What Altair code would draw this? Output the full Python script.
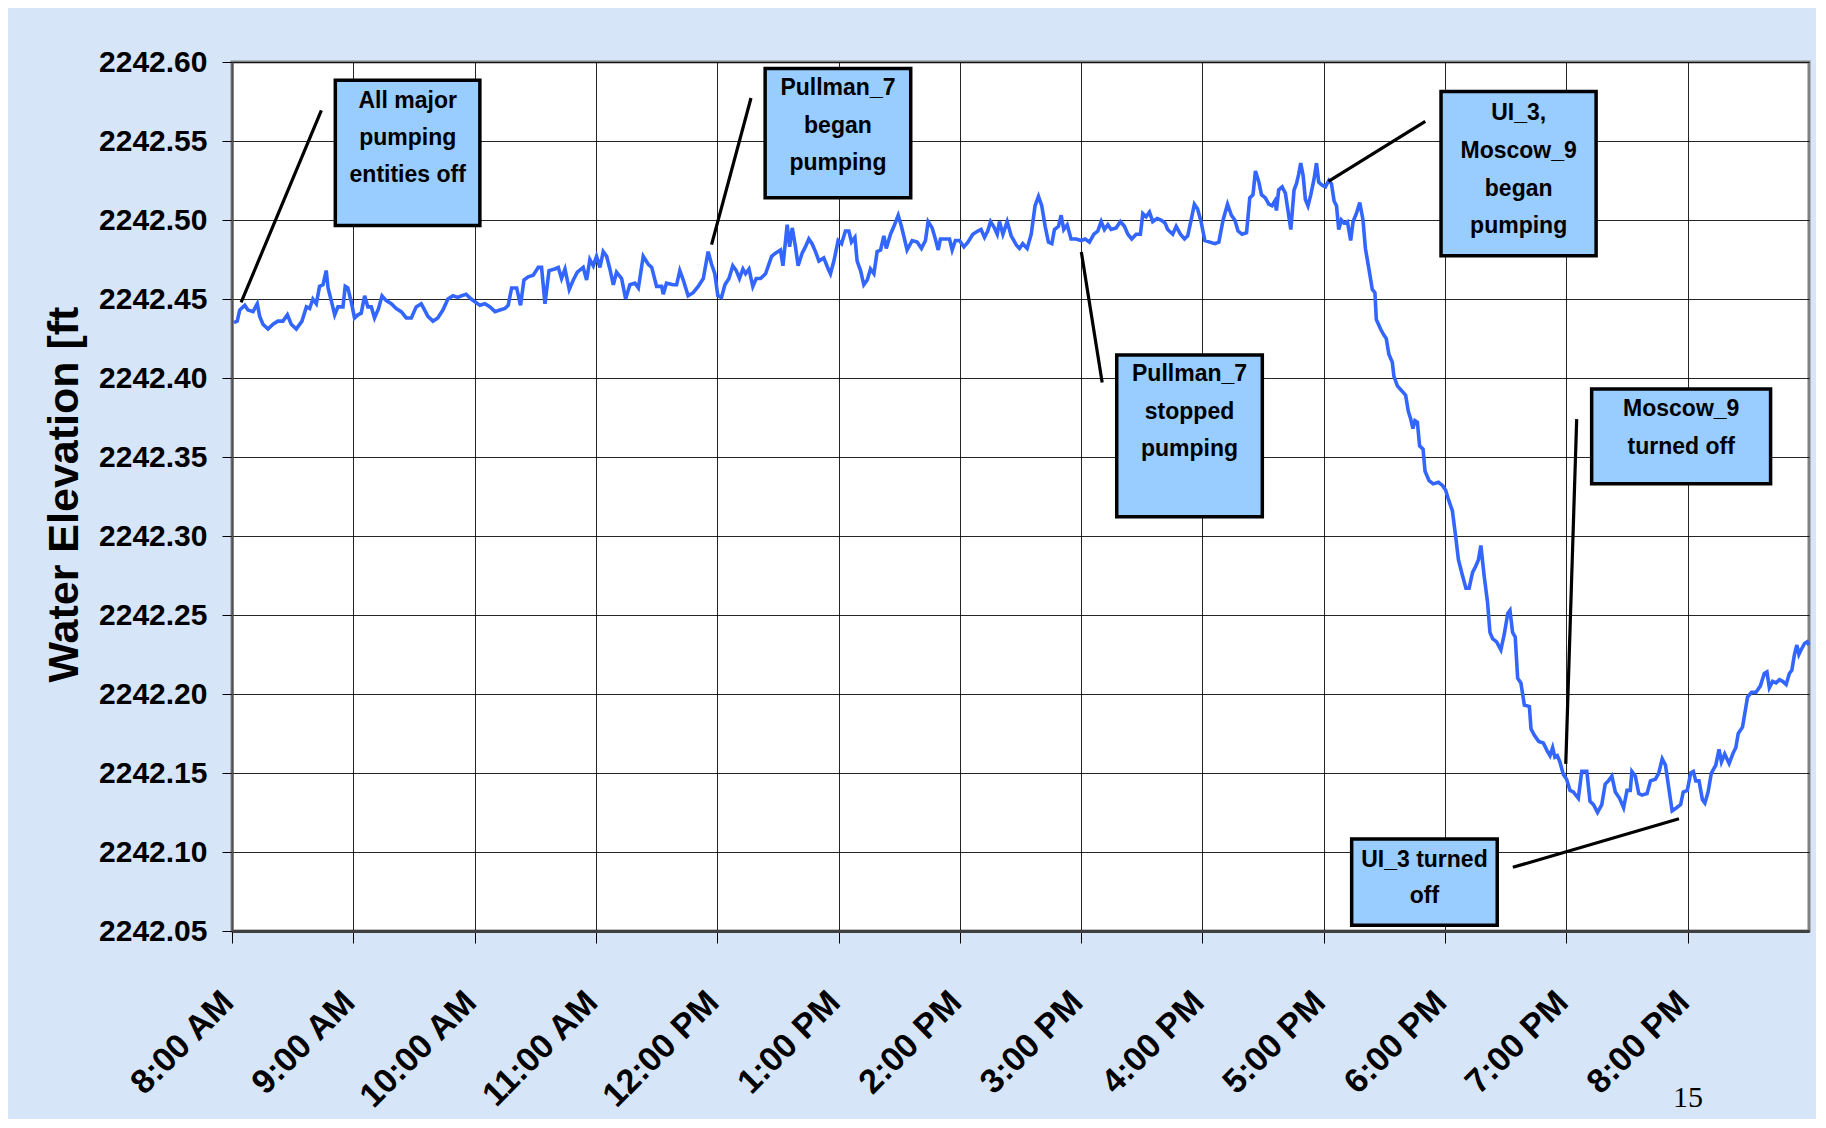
import altair as alt
import pandas as pd

# ---------------- data ----------------
hour_labels = ["8:00 AM", "9:00 AM", "10:00 AM", "11:00 AM", "12:00 PM", "1:00 PM",
               "2:00 PM", "3:00 PM", "4:00 PM", "5:00 PM", "6:00 PM", "7:00 PM", "8:00 PM"]
y_ticks = [2242.05, 2242.10, 2242.15, 2242.20, 2242.25, 2242.30, 2242.35, 2242.40,
           2242.45, 2242.50, 2242.55, 2242.60]

# minutes after 8:00 AM
minutes = [
    1, 2.6, 3.8, 6.3, 7.9, 10.4, 12.5, 13.7, 15.3, 17.8, 20.3, 22.7, 25.2, 27.4, 29.3, 31.8, 34.6,
    36.8, 38.4, 40.0, 41.7, 43.3, 45.0, 46.6, 47.5, 49.1, 50.8, 52.4, 54.9, 56.0, 57.3, 59.0, 60.6,
    62.3, 63.9, 65.6, 67.2, 68.9, 70.5, 72.5, 74.2, 76.3, 78.8, 81.2, 83.7, 86.2, 88.7, 91.1, 93.6,
    95.3, 96.9, 99.4, 101.8, 104.3, 106.8, 109.3, 111.7, 113.4, 115.8, 118.3,
    120.5, 122.6, 125.1, 127.6, 130.1, 132.5, 135.0, 136.6, 138.3, 140.8, 142.7, 144.4, 146.5, 149.0,
    151.5, 153.1, 154.8, 156.8, 159.7, 161.4, 163.0, 164.7, 166.8, 168.8, 170.8, 173.7, 175.4, 177.0,
    178.7, 180.3, 182.0, 183.6, 185.3, 186.9, 188.6, 190.2, 192.7, 194.7, 196.8, 199.3, 201.0, 203.4,
    205.9, 207.6, 210.0, 212.5, 213.3, 214.9, 218.2, 219.9, 221.5, 223.2, 225.6, 228.1, 230.6, 233.1,
    235.5, 237.2, 238.8, 240.3,
    242.1, 243.8, 245.8, 247.7, 249.4, 251.0, 252.7, 254.0, 255.7, 257.6, 259.3, 261.4, 263.9, 266.9,
    268.8, 271.3, 272.5, 274.6, 275.8, 277.1, 278.7, 280.0, 282.0, 283.6, 285.3, 286.9, 288.6, 290.3,
    292.7, 294.9, 296.0, 297.7, 299.8, 301.5, 303.4, 305.1, 306.4, 308.1, 309.2, 310.9, 312.5, 314.2,
    315.8, 317.5, 319.1, 320.8, 322.4, 323.6, 325.7, 327.4, 329.5, 331.1, 332.8, 333.9, 336.4, 338.9,
    341.0, 343.0, 344.3, 346.3, 347.9, 349.3, 350.4, 352.9, 354.9, 356.2, 357.8,
    359.8, 362.0, 364.0, 366.4, 368.9, 370.5, 372.2, 373.8, 375.2, 377.1, 378.5, 379.6, 381.3, 383.4,
    385.4, 388.0, 389.5, 391.1, 393.3, 395.3, 397.2, 398.9, 400.5, 402.2, 403.8, 405.5, 406.8, 408.8,
    410.1, 411.4, 413.1, 415.0, 417.5, 420.0, 422.0, 424.1, 426.3, 428.2, 429.9, 431.5, 433.2, 434.8,
    437.3, 439.4, 441.4, 443.1, 445.0, 447.2, 449.3, 450.5, 452.1, 453.8, 455.4, 457.6, 459.5, 461.5,
    462.8, 465.3, 467.0, 469.1, 471.1, 472.7, 474.4, 476.0, 477.6, 479.3,
    481.2, 483.6, 486.1, 488.1, 490.2, 492.4, 494.3, 496.0, 497.6, 499.6, 501.8, 503.4, 505.0, 506.2,
    507.9, 509.2, 511.1, 512.8, 514.4, 515.8, 516.6, 517.7, 519.4, 521.0, 522.4, 523.7, 525.3, 526.5,
    527.6, 528.6, 529.8, 530.9, 532.2, 533.6, 535.2, 536.4, 537.5, 539.2, 540.8, 542.5, 543.8, 545.1,
    546.3, 547.4, 548.7, 550.0, 551.7, 553.3, 554.5, 556.1, 557.8, 559.4, 560.6, 562.2,
    564.0, 565.3, 566.0, 568.1, 569.8, 570.9, 572.2, 573.9, 574.7, 576.4, 579.2, 580.5, 581.8, 583.0,
    584.1, 585.1, 586.3, 587.4, 589.1, 590.1, 592.1, 594.1, 596.7, 598.7, 600.3, 601.7, 603.6, 605.3,
    606.6, 608.6, 610.3, 611.9, 613.6, 615.2, 616.5, 617.7, 619.3, 621.0, 622.2, 623.5, 625.5, 627.6,
    629.3, 631.0, 632.1, 633.4, 634.7, 635.9, 637.5, 639.2, 641.7, 642.5, 644.1, 646.3, 648.6, 650.5,
    651.9, 653.2, 654.3, 655.5, 656.8, 658.5, 660.1, 661.8, 663.4, 665.9, 667.6, 670.1, 671.7, 673.4,
    675.4, 677.5, 679.2, 680.8, 682.5, 684.2, 686.3, 688.3, 690.0, 691.6, 692.4, 694.1, 695.8, 697.4,
    699.9, 701.6, 704.0, 705.7, 707.4, 709.0, 710.7, 712.3, 714.5, 716.5, 717.8, 719.8, 721.5, 722.8,
    724.0, 725.6, 727.3, 728.5, 730.1, 731.7, 733.9, 735.5, 736.7, 738.3, 740.5, 742.6, 743.8, 745.0,
    747.1, 749.6, 751.6, 753.7, 755.9, 757.9, 759.2, 760.4, 762.0, 763.7, 765.4, 767.0, 768.7, 770.3,
    771.5, 772.8, 774.0, 775.0, 776.1, 777.8, 779.1, 780.0,
]

elevation = [
    2242.435, 2242.436, 2242.443, 2242.446, 2242.443, 2242.442, 2242.447, 2242.439, 2242.434, 2242.431,
    2242.434, 2242.436, 2242.436, 2242.440, 2242.434, 2242.431, 2242.436, 2242.445, 2242.444, 2242.450,
    2242.447, 2242.458, 2242.459, 2242.468, 2242.457, 2242.449, 2242.440, 2242.445, 2242.445, 2242.458,
    2242.457, 2242.448, 2242.438, 2242.440, 2242.441, 2242.452, 2242.445, 2242.445, 2242.438, 2242.444,
    2242.452, 2242.449, 2242.447, 2242.444, 2242.442, 2242.438, 2242.438, 2242.445, 2242.447, 2242.443,
    2242.439, 2242.436, 2242.438, 2242.443, 2242.450, 2242.452, 2242.451, 2242.452, 2242.453, 2242.450,
    2242.448, 2242.446, 2242.447, 2242.445, 2242.442, 2242.443, 2242.444, 2242.446, 2242.457, 2242.457,
    2242.446, 2242.462, 2242.464, 2242.465, 2242.470, 2242.470, 2242.447, 2242.468, 2242.469, 2242.470,
    2242.463, 2242.469, 2242.456, 2242.462, 2242.467, 2242.470, 2242.462, 2242.475, 2242.471, 2242.477,
    2242.470, 2242.480, 2242.477, 2242.469, 2242.459, 2242.467, 2242.463, 2242.450, 2242.459, 2242.460,
    2242.457, 2242.477, 2242.472, 2242.470, 2242.458, 2242.458, 2242.453, 2242.460, 2242.459, 2242.459,
    2242.468, 2242.462, 2242.452, 2242.454, 2242.458, 2242.463, 2242.480, 2242.472, 2242.466, 2242.452,
    2242.451, 2242.459, 2242.463, 2242.471, 2242.468, 2242.463, 2242.469, 2242.466, 2242.469, 2242.458,
    2242.463, 2242.463, 2242.466, 2242.477, 2242.479, 2242.481, 2242.471, 2242.497, 2242.483, 2242.495,
    2242.483, 2242.471, 2242.479, 2242.483, 2242.488, 2242.485, 2242.480, 2242.474, 2242.476, 2242.469,
    2242.466, 2242.474, 2242.487, 2242.485, 2242.493, 2242.493, 2242.486, 2242.489, 2242.474, 2242.468,
    2242.459, 2242.462, 2242.469, 2242.466, 2242.480, 2242.481, 2242.490, 2242.482, 2242.491, 2242.496,
    2242.503, 2242.496, 2242.487, 2242.481, 2242.487, 2242.486, 2242.482, 2242.487, 2242.499, 2242.495,
    2242.488, 2242.481, 2242.488, 2242.488, 2242.488, 2242.481, 2242.487,
    2242.487, 2242.483, 2242.486, 2242.491, 2242.493, 2242.494, 2242.489, 2242.493, 2242.499, 2242.495,
    2242.491, 2242.499, 2242.491, 2242.499, 2242.490, 2242.484, 2242.482, 2242.485, 2242.482, 2242.491,
    2242.509, 2242.515, 2242.509, 2242.496, 2242.486, 2242.485, 2242.494, 2242.496, 2242.503, 2242.494,
    2242.497, 2242.488, 2242.488, 2242.487, 2242.488, 2242.486, 2242.491, 2242.493, 2242.499, 2242.494,
    2242.497, 2242.494, 2242.495, 2242.499, 2242.496, 2242.491, 2242.488, 2242.491, 2242.491, 2242.504,
    2242.502, 2242.505, 2242.499, 2242.501, 2242.500, 2242.498, 2242.494, 2242.491, 2242.496, 2242.491,
    2242.488, 2242.490, 2242.500, 2242.510, 2242.507, 2242.499,
    2242.487, 2242.486, 2242.485, 2242.486, 2242.500, 2242.510, 2242.503, 2242.500, 2242.493, 2242.491,
    2242.492, 2242.514, 2242.516, 2242.531, 2242.524, 2242.516, 2242.514, 2242.510, 2242.509, 2242.512,
    2242.506, 2242.519, 2242.521, 2242.517, 2242.505, 2242.494, 2242.519, 2242.523, 2242.529, 2242.536,
    2242.528, 2242.513, 2242.509, 2242.516, 2242.526, 2242.536, 2242.524, 2242.522, 2242.521, 2242.525,
    2242.523, 2242.512, 2242.509, 2242.494, 2242.500, 2242.498, 2242.499, 2242.487, 2242.499, 2242.504,
    2242.511, 2242.500, 2242.482, 2242.470,
    2242.456, 2242.454, 2242.437, 2242.431, 2242.427, 2242.425, 2242.415, 2242.410, 2242.401, 2242.395,
    2242.391, 2242.389, 2242.379, 2242.374, 2242.368, 2242.373, 2242.372, 2242.357, 2242.355, 2242.341,
    2242.335, 2242.333, 2242.334, 2242.332, 2242.329, 2242.323, 2242.316, 2242.299, 2242.285, 2242.275,
    2242.267, 2242.267, 2242.277, 2242.281, 2242.285, 2242.294, 2242.275, 2242.258, 2242.239, 2242.235,
    2242.233, 2242.228, 2242.238, 2242.251, 2242.253, 2242.239, 2242.236, 2242.210, 2242.207, 2242.193,
    2242.192, 2242.178, 2242.174, 2242.170, 2242.169, 2242.164, 2242.161, 2242.166, 2242.160, 2242.161,
    2242.157, 2242.149, 2242.146, 2242.139, 2242.138, 2242.134, 2242.151, 2242.151, 2242.132, 2242.130,
    2242.125, 2242.130, 2242.143, 2242.145, 2242.148, 2242.138, 2242.134, 2242.128, 2242.139, 2242.139,
    2242.151, 2242.148, 2242.137, 2242.136, 2242.137, 2242.145, 2242.146, 2242.150, 2242.159, 2242.155,
    2242.140, 2242.126, 2242.128, 2242.130, 2242.138, 2242.139, 2242.150, 2242.151, 2242.145, 2242.145,
    2242.133, 2242.131, 2242.138, 2242.150, 2242.155, 2242.165, 2242.157, 2242.162, 2242.156, 2242.163,
    2242.166, 2242.175, 2242.179, 2242.198, 2242.201, 2242.201, 2242.205, 2242.213, 2242.214, 2242.204,
    2242.208, 2242.207, 2242.209, 2242.208, 2242.206, 2242.213, 2242.215, 2242.225, 2242.231, 2242.225,
    2242.228, 2242.232, 2242.233, 2242.231,
]

# annotation boxes (minutes / ft)
box_t1 = [51.1, 263.7, 598.0, 437.6, 672.5, 553.8]
box_t2 = [122.6, 335.7, 674.7, 509.6, 761.0, 625.8]
box_v1 = [2242.5885, 2242.5959, 2242.5814, 2242.4146, 2242.3931, 2242.1083]
box_v2 = [2242.4965, 2242.5141, 2242.4774, 2242.3122, 2242.3331, 2242.0536]

# annotation text lines
note_text = ["All major", "pumping", "entities off",
             "Pullman_7", "began", "pumping",
             "UI_3,", "Moscow_9", "began", "pumping",
             "Pullman_7", "stopped", "pumping",
             "Moscow_9", "turned off",
             "UI_3 turned", "off"]
note_t = [86.9, 86.9, 86.9,
          299.7, 299.7, 299.7,
          636.4, 636.4, 636.4, 636.4,
          473.6, 473.6, 473.6,
          716.8, 716.8,
          589.8, 589.8]
note_v = [2242.5753, 2242.5517, 2242.5282,
          2242.5834, 2242.5598, 2242.5363,
          2242.5677, 2242.5434, 2242.5196, 2242.4959,
          2242.4028, 2242.3785, 2242.3549,
          2242.3801, 2242.3565,
          2242.0951, 2242.0722]

# leader lines
lead_t1 = [4.5, 237.2, 542.3, 420.1, 659.7, 633.5]
lead_v1 = [2242.4478, 2242.4844, 2242.5244, 2242.4797, 2242.1558, 2242.0903]
lead_t2 = [44.2, 256.7, 590.2, 430.4, 665.1, 715.7]
lead_v2 = [2242.5694, 2242.5772, 2242.5624, 2242.3972, 2242.3740, 2242.1211]

page_number = "15"

# ---------------- chart ----------------
series = pd.DataFrame({"t": minutes, "v": elevation})
boxes = pd.DataFrame({"t": box_t1, "t2": box_t2, "v": box_v1, "v2": box_v2})
notes = pd.DataFrame({"t": note_t, "v": note_v, "txt": note_text})
leads = pd.DataFrame({"t": lead_t1, "t2": lead_t2, "v": lead_v1, "v2": lead_v2})

label_arr = "[" + ",".join("'" + s + "'" for s in hour_labels) + "]"

x_scale = alt.Scale(domain=[0, 780], nice=False, zero=False)
y_scale = alt.Scale(domain=[2242.05, 2242.60], nice=False, zero=False)

x_axis = alt.Axis(
    values=[i * 60 for i in range(len(hour_labels))],
    labelExpr=label_arr + "[round(datum.value/60)]",
    labelAngle=-45, labelAlign="right", labelBaseline="middle",
    labelFont="Liberation Sans", labelFontWeight="bold", labelFontSize=34,
    labelColor="black", labelPadding=54, labelOffset=-4,
    tickSize=12, tickColor="black", tickWidth=1,
    grid=True, gridColor="black", gridWidth=1, gridOpacity=0.85,
    domainColor="#404040", domainWidth=3, title=None, labelOverlap=False,
)
y_axis = alt.Axis(
    values=y_ticks, format=".2f",
    labelFont="Liberation Sans", labelFontWeight="bold", labelFontSize=30,
    labelColor="black", labelPadding=15,
    tickSize=10, tickColor="black", tickWidth=1,
    grid=True, gridColor="black", gridWidth=1, gridOpacity=0.85,
    domainColor="#505050", domainWidth=2,
    title="Water Elevation [ft", titleFont="Liberation Sans", titleFontWeight="bold",
    titleFontSize=43, titleColor="black", titleAngle=-90,
    titleAlign="center", titleBaseline="middle", titleX=-168, titleY=432,
    labelOverlap=False,
)


def xenc():
    return alt.X("t:Q", scale=x_scale, axis=x_axis)


def yenc():
    return alt.Y("v:Q", scale=y_scale, axis=y_axis)


line = alt.Chart(series).mark_line(color="#3366FF", strokeWidth=3.6).encode(
    x=xenc(), y=yenc(),
)

rects = alt.Chart(boxes).mark_rect(fill="#99CCFF", stroke="black", strokeWidth=3.5).encode(
    x=xenc(), x2="t2:Q", y=yenc(), y2="v2:Q",
)

rules = alt.Chart(leads).mark_rule(color="black", strokeWidth=3.2).encode(
    x=xenc(), x2="t2:Q", y=yenc(), y2="v2:Q",
)

texts = alt.Chart(notes).mark_text(
    font="Liberation Sans", fontWeight="bold", fontSize=23,
    color="black", align="center", baseline="middle",
).encode(
    x=xenc(), y=yenc(), text="txt:N",
)

page = alt.Chart(pd.DataFrame({"t": [720.2], "v": [2241.9445], "txt": [page_number]})).mark_text(
    font="Liberation Serif", fontSize=30, color="black", align="center", baseline="middle",
    clip=False,
).encode(
    x=xenc(), y=yenc(), text="txt:N",
)

chart = alt.layer(line, rects, rules, texts, page).properties(
    width=1577, height=869,
    autosize=alt.AutoSizeParams(type="none"),
    padding={"left": 224, "top": 54, "right": 7, "bottom": 188},
    background="#d6e6f8",
).configure_view(
    fill="white", stroke="#808080", strokeWidth=3,
)

chart.save("out.html", embed_options={"renderer": "svg", "actions": False})
